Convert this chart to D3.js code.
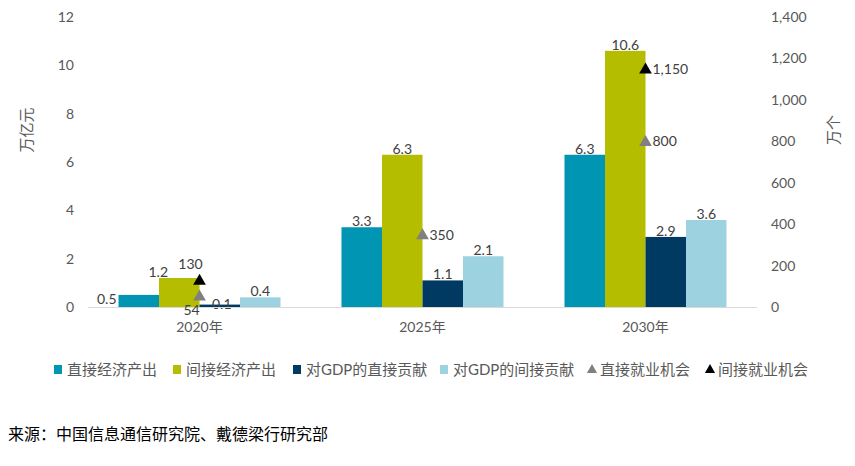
<!DOCTYPE html>
<html>
<head>
<meta charset="utf-8">
<script src="https://cdn.jsdelivr.net/npm/d3@7"></script>
<style>
	body { margin: 0; background: #fff; }
	text { font-family: Lato, "Noto Sans CJK SC", sans-serif; }
</style>
</head>
<body>
<svg id="chart" width="855" height="466"></svg>
<script>
// data
var years = ['2020年', '2025年', '2030年'];
var barSeries = ['直接经济产出', '间接经济产出', '对GDP的直接贡献', '对GDP的间接贡献'];
var directOutput = [0.5, 3.3, 6.3];
var indirectOutput = [1.2, 6.3, 10.6];
var gdpDirect = [0.1, 1.1, 2.9];
var gdpIndirect = [0.4, 2.1, 3.6];
var jobSeries = ['直接就业机会', '间接就业机会'];
var directJobs = [54, 350, 800];
var indirectJobs = [130, null, 1150];
var leftTicks = [0, 2, 4, 6, 8, 10, 12];
var rightTicks = [0, 200, 400, 600, 800, 1000, 1200, 1400];

var barColors = ['#0095b3', '#b5bd00', '#003a63', '#9dd3e0'];
var jobColors = ['#808080', '#000000'];

var svg = d3.select('#chart');
var plotLeft = 88, plotRight = 757, plotTop = 17, plotBottom = 307;

var x0 = d3.scaleBand().domain(years).range([plotLeft, plotRight]).paddingInner(0.2735).paddingOuter(0.1368);
var x1 = d3.scaleBand().domain(barSeries).range([0, x0.bandwidth()]);
var yL = d3.scaleLinear().domain([0, 12]).range([plotBottom, plotTop]);
var yR = d3.scaleLinear().domain([0, 1400]).range([plotBottom, plotTop]);

// axes
var axisL = svg.append('g').attr('transform', 'translate(' + (plotLeft - 14) + ',0)')
	.call(d3.axisLeft(yL).tickValues(leftTicks).tickSize(0).tickPadding(0));
var axisR = svg.append('g').attr('transform', 'translate(' + (plotRight + 14) + ',0)')
	.call(d3.axisRight(yR).tickValues(rightTicks).tickSize(0).tickPadding(0).tickFormat(d3.format(',')));
[axisL, axisR].forEach(function(a){
	a.select('.domain').remove();
	a.selectAll('text').attr('fill', '#595959').style('font-size', '14px')
		.style('font-family', 'Lato, "Noto Sans CJK SC", sans-serif');
});

var barData = [directOutput, indirectOutput, gdpDirect, gdpIndirect];
var groups = svg.append('g').selectAll('g')
	.data(years).enter().append('g')
	.attr('transform', function(d){ return 'translate(' + x0(d) + ',0)'; });

barSeries.forEach(function(s, si){
	groups.append('rect')
		.attr('x', x1(s))
		.attr('width', x1.bandwidth())
		.attr('y', function(d, i){ return yL(barData[si][i]); })
		.attr('height', function(d, i){ return plotBottom - yL(barData[si][i]); })
		.attr('fill', barColors[si]);
});

// baseline
svg.append('line').attr('x1', plotLeft).attr('x2', plotRight).attr('y1', plotBottom + 0.5).attr('y2', plotBottom + 0.5)
	.attr('stroke', '#d9d9d9').attr('stroke-width', 1);

// bar labels; the 2020 ones get pushed aside the way the original did
function labelNudge(si, i){
	if(i === 0 && si === 0) return [-32, 10];
	if(i === 0 && si === 1) return [-21, 0];
	if(i === 0 && si === 2) return [2, 5];
	return [0, 0];
}
barSeries.forEach(function(s, si){
	groups.append('text')
		.attr('x', function(d, i){ return x1(s) + x1.bandwidth() / 2 + labelNudge(si, i)[0]; })
		.attr('y', function(d, i){ return yL(barData[si][i]) - 1 + labelNudge(si, i)[1]; })
		.attr('text-anchor', 'middle')
		.attr('fill', '#404040').style('font-size', '14px')
		.text(function(d, i){ return barData[si][i]; });
});

// category labels
svg.append('g').selectAll('text').data(years).enter().append('text')
	.attr('x', function(d){ return x0(d) + x0.bandwidth() / 2; })
	.attr('y', 332)
	.attr('text-anchor', 'middle')
	.attr('fill', '#595959').style('font-size', '14px')
	.text(function(d){ return d; });

// job markers
var tri = d3.symbol().type(d3.symbolTriangle).size(70);
var jobData = [directJobs, indirectJobs];
var fmt = d3.format(',');
jobSeries.forEach(function(s, si){
	years.forEach(function(yr, i){
		var v = jobData[si][i];
		if(v == null) return;
		var cx = x0(yr) + x0.bandwidth() / 2;
		var cy = yR(v);
		svg.append('path').attr('d', tri).attr('fill', jobColors[si])
			.attr('transform', 'translate(' + cx + ',' + (cy + 1) + ')');
		var lbl = svg.append('text').attr('fill', '#404040').style('font-size', '14px').text(fmt(v));
		if(i === 0 && si === 1){
			lbl.attr('x', cx - 9).attr('y', cy - 11).attr('text-anchor', 'middle');
		} else if(i === 0 && si === 0){
			lbl.attr('x', cx - 8).attr('y', cy + 19).attr('text-anchor', 'middle');
		} else {
			lbl.attr('x', cx + 7).attr('y', cy + 5).attr('text-anchor', 'start');
		}
	});
});

// axis titles
svg.append('text').attr('transform', 'translate(32,130) rotate(-90)')
	.attr('text-anchor', 'middle').attr('fill', '#595959').style('font-size', '15px').text('万亿元');
svg.append('text').attr('transform', 'translate(839,130) rotate(-90)')
	.attr('text-anchor', 'middle').attr('fill', '#595959').style('font-size', '15px').text('万个');

// legend
var legendItems = [
	{name: barSeries[0], color: barColors[0], shape: 'rect', x: 54},
	{name: barSeries[1], color: barColors[1], shape: 'rect', x: 173},
	{name: barSeries[2], color: barColors[2], shape: 'rect', x: 293},
	{name: barSeries[3], color: barColors[3], shape: 'rect', x: 440},
	{name: jobSeries[0], color: jobColors[0], shape: 'tri', x: 587},
	{name: jobSeries[1], color: jobColors[1], shape: 'tri', x: 705}
];
var legend = svg.append('g');
legendItems.forEach(function(it){
	if(it.shape === 'rect'){
		legend.append('rect').attr('x', it.x).attr('y', 365).attr('width', 8).attr('height', 9).attr('fill', it.color);
	} else {
		legend.append('path').attr('d', d3.symbol().type(d3.symbolTriangle).size(45))
			.attr('transform', 'translate(' + (it.x + 5) + ',370)').attr('fill', it.color);
	}
	legend.append('text').attr('x', it.x + 13).attr('y', 375)
		.attr('fill', '#595959').style('font-size', '15px').text(it.name);
});

// source
svg.append('text').attr('x', 8).attr('y', 440)
	.attr('fill', '#000').style('font-size', '16px')
	.text('来源：中国信息通信研究院、戴德梁行研究部');
</script>
</body>
</html>
